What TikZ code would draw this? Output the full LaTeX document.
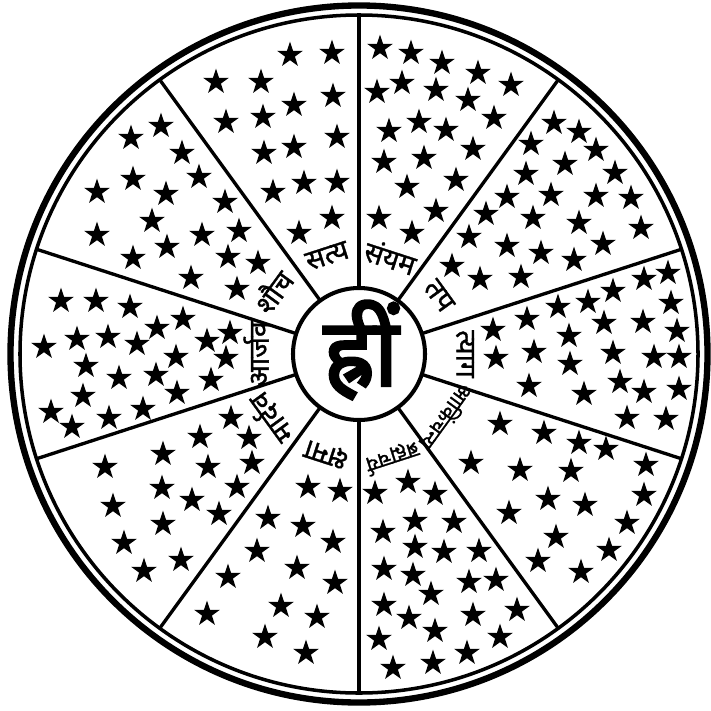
\documentclass[tikz,border=0pt]{standalone}
\usepackage{fontspec}
\newfontfamily\deva[Script=Devanagari]{Noto Sans}
\newfontfamily\devabf[Script=Devanagari,FakeBold=3]{Noto Sans}
\newfontfamily\devamd[Script=Devanagari,FakeBold=1.2]{Noto Sans}
\usetikzlibrary{shapes.geometric,calc}
\tikzset{
  starmk/.style={star, star points=5, star point ratio=2.618, fill=black, draw=none, inner sep=0pt, minimum size=5.4mm},
  ringnd/.style={circle, draw, inner sep=0pt, outer sep=0pt},
  spoke/.style={line width=1.9pt},
  lbl/.style={font=\devamd\fontsize{16pt}{16pt}\selectfont, inner sep=0pt},
  lblsm/.style={font=\devamd\fontsize{12pt}{12pt}\selectfont, inner sep=0pt}
}
\begin{document}
\begin{tikzpicture}[x=0.2mm,y=-0.2mm]
  \useasboundingbox (0,0) rectangle (711,711);
  \coordinate (c) at (359,354);
  \node[ringnd, line width=3.6pt, minimum size=139.4mm] (outer) at (c) {};
  \node[ringnd, line width=2pt, minimum size=135.6mm] (rim) at (c) {};
  \node[ringnd, line width=2.3pt, minimum size=26.4mm] (hub) at (c) {};
  \node[font=\devabf\fontsize{54pt}{54pt}\selectfont, inner sep=0pt] (hrim) at (361,350) {ह्रीं};
  % spokes
  \foreach \a in {18,54,...,342}
    \draw[spoke] (hub.\a) -- (rim.\a);
  % labels
  \foreach \p/\r/\t/\s [count=\i] in {108/103/सत्य/lbl, 72/102/संयम/lbl, 144/107/शौच/lbl,
      36/99/तप/lbl, 180/103/आर्जव/lbl, 0/106/त्याग/lbl, 324/109/आकिंचन्य/lblsm,
      288/109/ब्रह्मचर्य/lblsm, 252/105/क्षमा/lbl, 216/110/मार्दव/lbl}
    \path (c) ++(-\p:\r) node[\s, rotate=\p-90] (lb\i) {\t};
  % stars, sector by sector
  \foreach \x/\y [count=\i] in {290/55,332/53,216/82,261/82,333/96,294/105,226/122,263/117,
      337/137,264/153,294/147,304/183,337/182,273/192,332/218,299/233}
    \node[starmk] (sa\i) at (\x,\y) {};
  \foreach \x/\y [count=\i] in {161/126,131/138,182/153,133/179,199/177,97/192,166/194,225/202,
      152/221,97/235,202/235,239/231,167/247,133/258,228/257,258/263,191/278,237/289}
    \node[starmk] (sb\i) at (\x,\y) {};
  \foreach \x/\y [count=\i] in {61/301,96/301,130/307,183/319,157/328,230/333,44/347,77/339,
      108/337,137/344,207/341,86/366,176/357,226/358,119/378,156/375,211/380,83/396,177/393,
      51/412,72/427,109/418,143/409}
    \node[starmk] (sc\i) at (\x,\y) {};
  \foreach \x/\y [count=\i] in {231/418,200/437,249/438,163/454,208/467,252/463,105/467,162/488,
      192/500,237/487,219/514,113/506,163/524,124/543,181/560,144/571}
    \node[starmk] (sd\i) at (\x,\y) {};
  \foreach \x/\y [count=\i] in {308/487,340/491,268/518,303/526,333/542,257/551,297/568,335/583,
      228/577,281/606,317/617,207/614,265/637,306/653}
    \node[starmk] (se\i) at (\x,\y) {};
  \foreach \x/\y [count=\i] in {375/493,408/482,435/494,383/532,415/521,454/522,415/547,444/552,
      479/551,384/569,413/575,431/594,469/582,496/580,384/605,409/618,435/631,473/615,517/610,
      379/639,393/668,433/663,467/653,500/637}
    \node[starmk] (sf\i) at (\x,\y) {};
  \foreach \x/\y [count=\i] in {500/424,544/433,579/443,606/449,471/463,520/470,571/471,646/465,
      548/499,585/505,509/513,644/495,627/523,556/537,538/561,609/550,581/572}
    \node[starmk] (sg\i) at (\x,\y) {};
  \foreach \x/\y [count=\i] in {668/273,644/279,613/291,588/302,558/307,671/303,527/319,604/323,
      643/322,493/330,569/336,677/331,534/352,613/353,654/357,679/357,496/358,570/364,529/386,
      584/394,620/382,644/392,679/389,627/418,666/419}
    \node[starmk] (sh\i) at (\x,\y) {};
  \foreach \x/\y [count=\i] in {554/123,579/132,531/144,596/150,565/164,526/174,615/173,551/195,
      596/196,631/198,507/197,486/214,533/218,579/223,641/228,469/237,507/246,541/253,603/244,
      574/260,452/266,480/279,521/277}
    \node[starmk] (si\i) at (\x,\y) {};
  \foreach \x/\y [count=\i] in {380/48,411/53,442/63,478/73,511/85,377/92,402/83,436/90,468/100,
      494/118,389/131,419/122,446/130,473/149,384/162,424/158,456/180,407/187,379/218,436/211,
      412/233}
    \node[starmk] (sj\i) at (\x,\y) {};
\end{tikzpicture}
\end{document}
